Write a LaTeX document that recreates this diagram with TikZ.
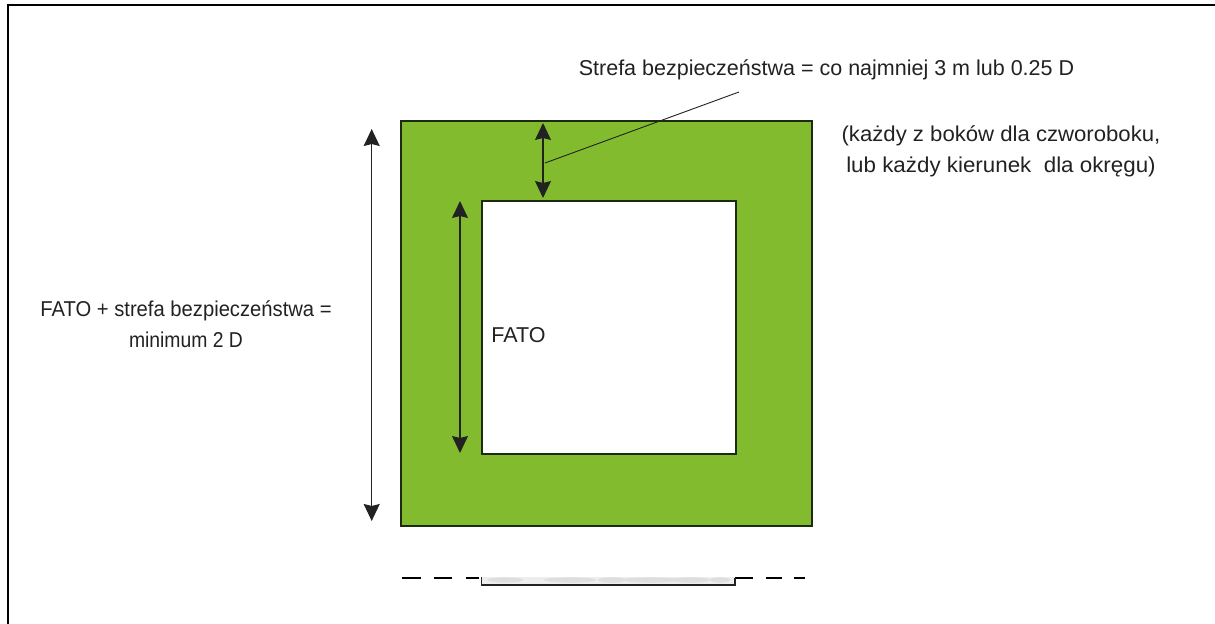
\documentclass[tikz,border=0pt]{standalone}
\usepackage{fontspec}
\setmainfont{Liberation Sans}
\usetikzlibrary{arrows.meta}
\definecolor{zone}{HTML}{82BC2E}
\definecolor{edge}{HTML}{1C2A12}
\definecolor{ink}{HTML}{222222}
\tikzset{
  x=1bp,y=-1bp,
  label/.style={text=ink,inner sep=0pt,font=\fontsize{21.5bp}{31bp}\selectfont,align=center,anchor=center},
  squarebox/.style={draw=edge,line width=2.3bp,inner sep=0pt,anchor=north west},
  measure/.style={draw=ink,line width=1.1bp,{Stealth[length=17bp,width=16bp,inset=2bp]}-{Stealth[length=17bp,width=16bp,inset=2bp]}},
  leader/.style={draw=ink,line width=0.9bp},
  gap/.style={draw=black,line width=1.8bp},
}
\begin{document}
\begin{tikzpicture}
\useasboundingbox (0,0) rectangle (1215,624);
\fill[white] (0,0) rectangle (1215,624);
% page frame, open at right and bottom
\draw[black,line width=2bp] (8,624) -- (8,5.3) -- (1215,5.3);
% zones
\node[squarebox,fill=zone,minimum width=411bp,minimum height=405bp] (outer) at (399.7,119.7) {};
\node[squarebox,fill=white,minimum width=254bp,minimum height=253bp] (inner) at (480.7,199.7) {};
% measure lines
\coordinate (a1) at (371.7,129); \coordinate (a2) at (371.7,521);
\coordinate (b1) at (460,201); \coordinate (b2) at (460,453);
\coordinate (c1) at (543,123); \coordinate (c2) at (543,198);
\draw[measure] (a1) -- (a2);
\draw[measure] (b1) -- (b2);
\draw[measure] (c1) -- (c2);
\coordinate (l1) at (545,163); \coordinate (l2) at (739,92);
\draw[leader] (l1) -- (l2);
% texts
\node[label] (t1) at (826.5,69.5) {\scalebox{1.0}[1]{Strefa bezpieczeństwa = co najmniej 3 m lub 0.25 D}};
\node[label] (t2) at (1001,151) {\scalebox{1.03}[1]{(każdy z boków dla czworoboku,}\\\scalebox{1.04}[1]{lub każdy kierunek\ \ dla okręgu)}};
\node[label] (t3) at (186,324.5) {\scalebox{0.94}[1]{FATO + strefa bezpieczeństwa =}\\\scalebox{0.9}[1]{minimum 2 D}};
\node[label] (t4) at (518.5,335) {FATO};
% bottom section
\fill[gray!14] (481,577) rectangle (735,584.5);
\foreach \cx/\rx in {505/18,570/26,612/14,650/28,690/20,720/10}{
  \fill[gray!26] (\cx,580) ellipse ({\rx} and 2.6);
}
\draw[gap] (402,578) -- (421,578);
\draw[gap] (434,578) -- (452,578);
\draw[gap] (466,578) -- (479,578);
\draw[gap] (735,578) -- (753,578);
\draw[gap] (766,578) -- (782,578);
\draw[gap] (794,578) -- (805,578);
\draw[draw=ink,line width=1.4bp] (481.5,577) -- (481.5,585) -- (735,585);
\draw[draw=ink,line width=2.6bp] (735,578) -- (735,586);
\end{tikzpicture}
\end{document}
